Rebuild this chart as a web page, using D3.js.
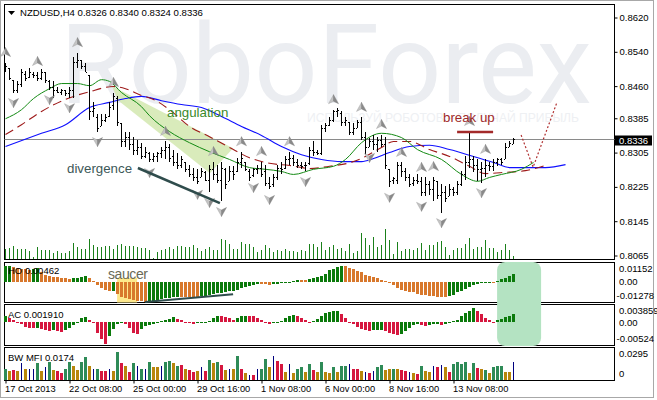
<!DOCTYPE html>
<html><head><meta charset="utf-8">
<script src="https://cdn.jsdelivr.net/npm/d3@7"></script>
<style>
html,body{margin:0;padding:0;background:#fff;}
svg{display:block;}
</style>
</head><body>
<svg id="chart" width="657" height="400"></svg>
<script>
// ---------------- DATA ----------------
const symbolTitle = "NZDUSD,H4";
const lastQuote = [0.8326, 0.8340, 0.8324, 0.8336];
const currentPrice = 0.8336;

const openP = [.8499,.8503,.8475,.8452,.8464,.8489,.8482,.8489,.8487,.8480,
 .8492,.8473,.8459,.8452,.8447,.8450,.8443,.8452,.8517,.8520,
 .8506,.8487,.8401,.8389,.8366,.8382,.8391,.8415,.8433,.8375,
 .8331,.8342,.8324,.8312,.8319,.8298,.8305,.8289,.8298,.8303,
 .8312,.8317,.8296,.8284,.8277,.8282,.8266,.8256,.8247,.8249,
 .8259,.8242,.8266,.8254,.8242,.8266,.8238,.8261,.8261,.8284,
 .8282,.8263,.8252,.8266,.8270,.8261,.8235,.8231,.8247,.8270,
 .8270,.8289,.8293,.8282,.8277,.8275,.8280,.8312,.8307,.8305,
 .8363,.8370,.8382,.8401,.8398,.8377,.8377,.8354,.8363,.8377,
 .8342,.8317,.8331,.8324,.8335,.8324,.8266,.8242,.8242,.8277,
 .8261,.8247,.8233,.8242,.8238,.8214,.8231,.8219,.8238,.8207,
 .8214,.8203,.8219,.8214,.8231,.8254,.8284,.8289,.8277,.8266,
 .8270,.8277,.8273,.8284,.8289,.8289,.8319,.8326];
const highP = [.8515,.8503,.8475,.8471,.8499,.8496,.8503,.8492,.8494,.8501,
 .8492,.8475,.8471,.8459,.8454,.8452,.8457,.8527,.8538,.8522,
 .8515,.8487,.8422,.8394,.8394,.8394,.8422,.8445,.8436,.8375,
 .8354,.8352,.8342,.8335,.8328,.8319,.8307,.8305,.8307,.8319,
 .8331,.8324,.8312,.8305,.8296,.8282,.8277,.8270,.8266,.8270,
 .8261,.8277,.8284,.8277,.8284,.8270,.8273,.8273,.8293,.8307,
 .8284,.8266,.8270,.8277,.8284,.8277,.8247,.8254,.8277,.8282,
 .8296,.8307,.8300,.8289,.8284,.8282,.8319,.8331,.8312,.8370,
 .8375,.8389,.8405,.8410,.8401,.8387,.8377,.8375,.8382,.8387,
 .8352,.8340,.8347,.8342,.8347,.8342,.8266,.8249,.8284,.8282,
 .8270,.8254,.8247,.8254,.8247,.8249,.8238,.8249,.8238,.8231,
 .8226,.8231,.8224,.8238,.8261,.8296,.8354,.8296,.8289,.8282,
 .8289,.8282,.8289,.8293,.8293,.8328,.8331,.8340];
const lowP = [.8494,.8475,.8445,.8445,.8459,.8471,.8480,.8480,.8471,.8475,
 .8468,.8452,.8433,.8443,.8440,.8436,.8433,.8433,.8503,.8499,
 .8492,.8382,.8387,.8354,.8366,.8377,.8389,.8405,.8366,.8319,
 .8319,.8312,.8300,.8300,.8289,.8293,.8282,.8282,.8284,.8293,
 .8289,.8284,.8273,.8266,.8270,.8259,.8247,.8238,.8231,.8247,
 .8238,.8212,.8242,.8235,.8191,.8219,.8238,.8242,.8259,.8270,
 .8261,.8238,.8247,.8254,.8249,.8226,.8219,.8224,.8242,.8254,
 .8266,.8277,.8273,.8270,.8266,.8261,.8277,.8296,.8300,.8300,
 .8352,.8366,.8377,.8389,.8366,.8366,.8347,.8347,.8363,.8335,
 .8300,.8317,.8312,.8307,.8317,.8266,.8224,.8231,.8231,.8249,
 .8238,.8224,.8226,.8231,.8203,.8203,.8207,.8191,.8196,.8165,
 .8189,.8203,.8203,.8207,.8226,.8242,.8270,.8259,.8238,.8235,
 .8249,.8261,.8261,.8273,.8277,.8289,.8317,.8324];
const closeP = [.8508,.8480,.8452,.8466,.8492,.8480,.8492,.8487,.8480,.8494,
 .8475,.8457,.8452,.8447,.8452,.8443,.8452,.8517,.8522,.8506,
 .8494,.8401,.8410,.8363,.8382,.8389,.8412,.8436,.8377,.8331,
 .8342,.8324,.8312,.8319,.8296,.8307,.8289,.8298,.8303,.8312,
 .8317,.8293,.8284,.8277,.8289,.8266,.8254,.8247,.8238,.8261,
 .8242,.8266,.8254,.8242,.8270,.8231,.8261,.8254,.8284,.8293,
 .8266,.8247,.8266,.8270,.8256,.8235,.8228,.8247,.8270,.8266,
 .8289,.8293,.8282,.8277,.8273,.8277,.8312,.8307,.8305,.8363,
 .8370,.8382,.8401,.8405,.8377,.8382,.8354,.8363,.8377,.8342,
 .8317,.8331,.8324,.8335,.8324,.8277,.8238,.8245,.8277,.8261,
 .8247,.8231,.8242,.8238,.8214,.8231,.8219,.8242,.8207,.8214,
 .8200,.8219,.8214,.8231,.8254,.8284,.8289,.8277,.8266,.8270,
 .8277,.8273,.8284,.8289,.8284,.8319,.8328,.8336];

const volumes = [33,34,41,33,33,33,27,9,39,29,30,30,19,27,19,20,25,51,39,33,33,63,45,39,37,40,42,33,45,48,40,40,
 40,38,36,36,30,4,23,29,33,38,33,42,42,38,38,45,35,27,32,39,29,30,63,60,48,31,33,54,48,46,39,24,
 30,45,36,24,30,27,33,27,27,24,30,27,48,48,39,54,30,39,45,33,36,27,48,21,27,81,66,45,69,39,45,93,
 60,18,54,27,33,33,30,36,51,30,45,45,54,57,39,15,30,36,36,48,66,33,39,39,60,36,36,24,30,48,30,12];

// Alligator lines: [bar index, price]
const jawPts = [[0,.8319],[9,.8350],[15,.8370],[21,.8410],[26,.8422],[30,.8431],[34,.8436],[39,.8426],[44,.8417],
 [49,.8410],[54,.8389],[59,.8366],[64,.8345],[69,.8319],[74,.8300],[79,.8289],[84,.8284],[89,.8284],[92,.8291],
 [96,.8305],[101,.8319],[106,.8322],[111,.8312],[117,.8296],[122,.8282],[126,.8270],[131,.8270],[135,.8270],[140,.8277]];
const teethPts = [[0,.8347],[4,.8370],[9,.8401],[15,.8429],[21,.8447],[27,.8459],[30,.8454],[34,.8438],[37,.8429],
 [41,.8405],[46,.8366],[51,.8342],[56,.8317],[61,.8293],[66,.8280],[71,.8275],[76,.8268],[81,.8273],[87,.8284],
 [90,.8296],[94,.8317],[97,.8331],[101,.8331],[106,.8312],[111,.8296],[116,.8273],[120,.8256],[125,.8259],
 [130,.8263],[135,.8275]];
const lipsPts = [[0,.8384],[4,.8405],[7,.8431],[11,.8454],[14,.8466],[18,.8466],[21,.8461],[24,.8475],[26,.8471],
 [29,.8445],[34,.8412],[36,.8391],[41,.8354],[46,.8328],[51,.8307],[56,.8289],[61,.8270],[65,.8266],[69,.8261],
 [72,.8254],[77,.8266],[82,.8273],[85,.8289],[89,.8328],[94,.8350],[99,.8340],[103,.8312],[109,.8289],[114,.8254],
 [118,.8238],[121,.8247],[124,.8254],[129,.8266],[132,.8282]];

const fractalUp = [0,8,18,27,40,52,59,64,71,82,89,94,99,104,107,116,120];
const fractalDown = [2,11,16,23,36,48,51,54,62,66,75,91,96,104,109,119];

const hoVals = [.0095,.0097,.0091,.0083,.0079,.0077,.0074,.0080,.0083,.0062,
 .0044,.0038,.0032,.0028,.0023,.0020,.0015,.0020,.0025,.0031,
 .0034,.0022,.0003,-.0022,-.0038,-.0048,-.0058,-.0054,-.0077,-.0092,
 -.0101,-.0108,-.0112,-.0116,-.0120,-.0123,-.0120,-.0117,-.0113,-.0108,
 -.0103,-.0098,-.0094,-.0091,-.0092,-.0093,-.0094,-.0095,-.0096,-.0090,
 -.0085,-.0080,-.0076,-.0072,-.0068,-.0064,-.0060,-.0055,-.0049,-.0040,
 -.0032,-.0025,-.0019,-.0014,-.0015,-.0016,-.0018,-.0015,-.0012,-.0009,
 -.0006,-.0003,.0007,.0011,.0010,.0009,.0015,.0020,.0026,.0034,
 .0046,.0071,.0080,.0092,.0095,.0094,.0086,.0078,.0065,.0057,
 .0044,.0036,.0026,.0020,.0011,.0003,-.0005,-.0022,-.0038,-.0052,
 -.0058,-.0063,-.0066,-.0073,-.0079,-.0083,-.0087,-.0089,-.0091,-.0092,
 -.0093,-.0087,-.0079,-.0066,-.0054,-.0042,-.0032,-.0022,-.0014,-.0005,
 -.0002,.0001,.0000,.0005,.0014,.0023,.0034,.00462];

const acVals = [.00133,.00095,.00060,-.00016,-.00051,-.00111,-.00127,-.00140,-.00127,-.00162,
 -.00184,-.00200,-.00184,-.00200,-.00215,-.00184,-.00140,-.00067,-.00016,.00095,
 .00111,.00038,-.00016,-.00238,-.00384,-.00482,-.00311,-.00162,-.00051,-.00016,
 -.00051,-.00140,-.00238,-.00260,-.00162,-.00089,-.00067,-.00051,-.00016,.00022,
 .00060,.00082,.00111,.00082,.00044,.00007,-.00029,-.00038,-.00022,-.00016,
 0,.00022,.00095,.00149,.00133,.00111,.00095,.00060,.00095,.00133,
 .00149,.00149,.00133,.00095,.00038,-.00016,-.00051,-.00029,-.00016,.00022,
 .00095,.00149,.00171,.00133,.00095,.00060,0,.00022,.00073,.00133,
 .00206,.00229,.00244,.00260,.00184,.00095,.00007,-.00038,-.00111,-.00162,
 -.00184,-.00193,-.00184,-.00178,-.00171,-.00200,-.00238,-.00273,-.00289,-.00273,
 -.00200,-.00140,-.00073,-.00051,-.00073,-.00089,-.00067,-.00051,-.00044,-.00067,
 -.00038,-.00016,.00022,.00060,.00133,.00206,.00260,.00317,.00260,.00184,
 .00095,.00038,-.00007,.00038,.00082,.00111,.00149,.00191];

const mfiVals = [.0111,.0088,.0095,.0088,.0164,.0105,.0105,.0105,.0161,.0088,
 .0121,.0177,.0095,.0088,.0072,.0105,.0170,.0138,.0095,.0170,
 .0226,.0138,.0105,.0111,.0088,.0088,.0105,.0088,.0275,.0161,
 .0138,.0079,.0161,.0138,.0111,.0111,.0170,.0128,.0121,.0138,
 .0170,.0184,.0161,.0138,.0144,.0105,.0095,.0079,.0088,.0121,
 .0088,.0197,.0161,.0177,.0147,.0095,.0111,.0105,.0236,.0105,
 .0072,.0052,.0046,.0111,.0105,.0203,.0121,.0236,.0184,.0154,
 .0079,.0154,.0072,.0105,.0121,.0079,.0154,.0095,.0079,.0177,
 .0079,.0072,.0121,.0079,.0138,.0131,.0154,.0111,.0105,.0088,
 .0079,.0072,.0088,.0128,.0144,.0095,.0105,.0105,.0105,.0098,
 .0088,.0079,.0066,.0056,.0138,.0088,.0079,.0138,.0121,.0144,
 .0121,.0079,.0154,.0170,.0154,.0177,.0072,.0164,.0115,.0105,
 .0095,.0066,.0121,.0138,.0131,.0079,.0079,.0174];
// BW MFI bar type: G = green, R = fake (red), Y = fade (gold), B = squat (blue)
const mfiTypes = ("GYRYBYBBGYBGYRRGGYYGGYBGRRBYGRYRGBGBGYYBGGYGRYRRYBRGYGRYBYGRYBRBGGYBRRYBYGGYGRYGYYGYGGBRRYBRBGGYYGYRRBYRGYYBRBYRGGGGYGRYGYGGGYYB").split("");

const priceTicks = [0.8620, 0.8540, 0.8460, 0.8385, 0.8305, 0.8225, 0.8145, 0.8065];
const hoTicks = [0.01152, 0, -0.01278];
const acTicks = [0.003859, 0, -0.00524];
const mfiTicks = [0.0295, 0];
const dateTickBars = [0, 16, 32, 48, 64, 80, 96, 112];
const dateLabels = ["17 Oct 2013", "22 Oct 08:00", "25 Oct 00:00", "29 Oct 16:00",
                    "1 Nov 08:00", "6 Nov 00:00", "8 Nov 16:00", "13 Nov 08:00"];

// Annotations in data units
const angulationPoly = [[26.6,.8460],[56.9,.8315],[51.1,.8257],[28.1,.8427]];
const divergenceLine = [[33.1,.8269],[53.6,.8187]];
const breakUpLine = [[112.9,.8353],[121.9,.8353]];
const forecastPts = [[128.9,.8346],[131.9,.8271],[137.9,.8423]];
const saucerBox = [27.9, 32.9, .0023, -.01278];
const hoDivergence = [[34.9,-.0125],[56.9,-.0077]];
const highlightBars = [122.9, 133.9];

// ---------------- DRAW ----------------
const FONT = "'Liberation Sans', Arial, sans-serif";
const svg = d3.select("#chart");
const L = 4.5, R = 614.5;
const P = {main:[4.5,259.5], ho:[262.5,302.5], ac:[304.5,345.5], mfi:[347.5,380.5]};

const x = d3.scaleLinear().domain([0, 127]).range([5.5, 513.5]);
const yP = d3.scaleLinear().domain([0.8065, 0.8620]).range([255.5, 17.5]);
const yV = d3.scaleLinear().domain([0, 96]).range([259.5, 227.5]);
const yHO = d3.scaleLinear().domain([-0.01278, 0.01152]).range([302.5, 263]);
const yAC = d3.scaleLinear().domain([-0.00524, 0.003859]).range([345.5, 305]);
const yMFI = d3.scaleLinear().domain([0, 0.0295]).range([380, 349.5]);

// outer frame
svg.append("rect").attr("x",0.5).attr("y",0.5).attr("width",653).attr("height",397)
  .attr("fill","#fff").attr("stroke","#a8a8a8");

// watermark
const wm = svg.append("g");
wm.append("text").attr("x",60).attr("y",103).attr("font-family","Roboto, 'Open Sans', sans-serif")
  .attr("font-size",112).attr("textLength",532).attr("lengthAdjust","spacingAndGlyphs")
  .attr("fill","#ebedf1").text("RoboForex");
wm.append("text").attr("x",307).attr("y",122).attr("font-family",FONT).attr("font-size",12.5)
  .attr("textLength",272).attr("lengthAdjust","spacingAndGlyphs")
  .attr("fill","#eef0f3").text("ИСПОЛЬЗУЙ РОБОТОВ – ПОЛУЧАЙ ПРИБЫЛЬ");

// panel frames
Object.values(P).forEach(([t,b]) => {
  svg.append("rect").attr("x",L).attr("y",t).attr("width",R-L).attr("height",b-t)
    .attr("fill","none").attr("stroke","#000").attr("stroke-width",1);
});

// angulation polygon
svg.append("path").attr("d", d3.line().x(d=>x(d[0])).y(d=>yP(d[1]))(angulationPoly)+"Z")
  .attr("fill","#d5e9b4").attr("opacity",0.9);

// current price line
const cpY = Math.round(yP(currentPrice)) + 0.5;
svg.append("line").attr("x1",L).attr("x2",R).attr("y1",cpY).attr("y2",cpY)
  .attr("stroke","#8a8a8a").attr("stroke-width",1);

// volumes
const gV = svg.append("g").attr("shape-rendering","crispEdges");
gV.selectAll("rect").data(volumes).join("rect")
  .attr("x",(d,i)=>x(i)-0.5).attr("width",1)
  .attr("y",d=>yV(d)).attr("height",d=>259-yV(d)).attr("fill","#1a801a");

// alligator
const lineG = d3.line().x(d=>x(d[0])).y(d=>yP(d[1])).curve(d3.curveMonotoneX);
svg.append("path").attr("d",lineG(jawPts)).attr("fill","none").attr("stroke","#1010ff").attr("stroke-width",1.1);
svg.append("path").attr("d",lineG(teethPts)).attr("fill","none").attr("stroke","#9e1a1a").attr("stroke-width",1.1).attr("stroke-dasharray","9,5");
svg.append("path").attr("d",lineG(lipsPts)).attr("fill","none").attr("stroke","#138a13").attr("stroke-width",1);

// OHLC bars
const gB = svg.append("g").attr("shape-rendering","crispEdges").attr("fill","#000");
closeP.forEach((c,i) => {
  const cx = x(i)-0.5;
  const yh = Math.round(yP(highP[i])), yl = Math.round(yP(lowP[i]));
  gB.append("rect").attr("x",cx).attr("y",yh).attr("width",1).attr("height",Math.max(1,yl-yh));
  gB.append("rect").attr("x",cx-1).attr("y",Math.round(yP(openP[i]))).attr("width",1).attr("height",1);
  gB.append("rect").attr("x",cx+1).attr("y",Math.round(yP(c))).attr("width",1).attr("height",1);
});

// fractals
function arrow(g, up) {
  const s = up ? 1 : -1;
  g.append("path").attr("d",`M0,${-5*s} L-5,${4*s} L0,${1.5*s} Z`).attr("fill","#c4c4c4").attr("stroke","#9a9a9a").attr("stroke-width",0.4);
  g.append("path").attr("d",`M0,${-5*s} L5,${4*s} L0,${1.5*s} Z`).attr("fill","#8a8a8a").attr("stroke","#7a7a7a").attr("stroke-width",0.4);
}
fractalUp.forEach(i => arrow(svg.append("g").attr("transform",`translate(${x(i)},${yP(highP[i])-10})`), true));
fractalDown.forEach(i => arrow(svg.append("g").attr("transform",`translate(${x(i)},${yP(lowP[i])+10})`), false));

// annotations main
svg.append("line").attr("x1",x(divergenceLine[0][0])).attr("y1",yP(divergenceLine[0][1]))
  .attr("x2",x(divergenceLine[1][0])).attr("y2",yP(divergenceLine[1][1]))
  .attr("stroke","#2f4c4c").attr("stroke-width",2.5);
svg.append("line").attr("x1",x(breakUpLine[0][0])).attr("y1",yP(breakUpLine[0][1]))
  .attr("x2",x(breakUpLine[1][0])).attr("y2",yP(breakUpLine[1][1]))
  .attr("stroke","#a32a2a").attr("stroke-width",2.5);
svg.append("path").attr("d",d3.line().x(d=>x(d[0])).y(d=>yP(d[1]))(forecastPts))
  .attr("fill","none").attr("stroke","#b03030").attr("stroke-width",1.2).attr("stroke-dasharray","2,2");
svg.append("text").attr("x",167).attr("y",117).attr("font-family",FONT).attr("font-size",13.3)
  .attr("fill","#3a8a2a").text("angulation");
svg.append("text").attr("x",67).attr("y",173).attr("font-family",FONT).attr("font-size",13.3)
  .attr("fill","#3d5858").text("divergence");
svg.append("text").attr("x",443).attr("y",122).attr("font-family",FONT).attr("font-size",13.3)
  .attr("fill","#a02a2a").text("break up");

// header
svg.append("path").attr("d","M8,11 L15,11 L11.5,15 Z").attr("fill","#000");
svg.append("text").attr("x",20).attr("y",16).attr("font-family",FONT).attr("font-size",9.6)
  .attr("fill","#000").text(symbolTitle + " " + lastQuote.map(d=>d.toFixed(4)).join(" "));

// price axis
const axP = svg.append("g").attr("transform",`translate(${R},0)`)
  .call(d3.axisRight(yP).tickValues(priceTicks).tickSize(3).tickPadding(2).tickFormat(d3.format(".4f")));
axP.select(".domain").remove();
axP.selectAll("text").attr("font-family",FONT).attr("font-size",9.5).attr("fill","#000");
axP.selectAll("line").attr("stroke","#000");
svg.append("rect").attr("x",615).attr("y",Math.round(yP(currentPrice))-3.5).attr("width",37).attr("height",10)
  .attr("fill","#000");
svg.append("text").attr("x",619).attr("y",yP(currentPrice)+1.5).attr("dy","0.35em").attr("font-family",FONT)
  .attr("font-size",9.5).attr("fill","#fff").text(currentPrice.toFixed(4));

// green highlight rect across HO and AC
svg.append("rect").attr("x",x(highlightBars[0])).attr("y",262).attr("width",x(highlightBars[1])-x(highlightBars[0]))
  .attr("height",84).attr("rx",8).attr("fill","#b4e3c2");

// saucer box
svg.append("rect").attr("x",x(saucerBox[0])).attr("y",yHO(saucerBox[2]))
  .attr("width",x(saucerBox[1])-x(saucerBox[0])).attr("height",yHO(saucerBox[3])-yHO(saucerBox[2]))
  .attr("fill","#fde88c");

// HO bars
const gH = svg.append("g").attr("shape-rendering","crispEdges");
gH.selectAll("rect").data(hoVals).join("rect")
  .attr("x",(d,i)=>x(i)-1.5).attr("width",3)
  .attr("y",d=>Math.min(yHO(d),yHO(0))).attr("height",d=>Math.max(1,Math.abs(yHO(d)-yHO(0))))
  .attr("fill",(d,i)=> (i===0 || d>hoVals[i-1]) ? "#0b7a0b" : "#d8782c");
svg.append("line").attr("x1",x(hoDivergence[0][0])).attr("y1",yHO(hoDivergence[0][1]))
  .attr("x2",x(hoDivergence[1][0])).attr("y2",yHO(hoDivergence[1][1]))
  .attr("stroke","#2f4c4c").attr("stroke-width",2);
svg.append("text").attr("x",108).attr("y",279).attr("font-family",FONT).attr("font-size",14)
  .attr("textLength",40).attr("fill","#6a6a55").text("saucer");

// AC bars
const gA = svg.append("g").attr("shape-rendering","crispEdges");
gA.selectAll("rect").data(acVals).join("rect")
  .attr("x",(d,i)=>x(i)-1.5).attr("width",3)
  .attr("y",d=>Math.min(yAC(d),yAC(0))).attr("height",d=>Math.max(1,Math.abs(yAC(d)-yAC(0))))
  .attr("fill",(d,i)=> (i===0 || d>acVals[i-1]) ? "#0b7a0b" : "#d6173f");

// MFI bars
const mfiColor = {G:"#2e8b57", R:"#d6173f", Y:"#b8860b", B:"#00007f"};
const gM = svg.append("g").attr("shape-rendering","crispEdges");
gM.selectAll("rect").data(mfiVals).join("rect")
  .attr("x",(d,i)=> mfiTypes[i]==="B" ? x(i)-0.5 : x(i)-1.5)
  .attr("width",(d,i)=> mfiTypes[i]==="B" ? 1 : 3)
  .attr("y",d=>yMFI(d)).attr("height",d=>yMFI(0)-yMFI(d))
  .attr("fill",(d,i)=>mfiColor[mfiTypes[i]]);

// panel labels
function panelLabel(txt, y) {
  svg.append("text").attr("x",8).attr("y",y).attr("font-family",FONT).attr("font-size",9.5).attr("fill","#000").text(txt);
}
panelLabel("HO " + hoVals[hoVals.length-1].toFixed(5), 274);
panelLabel("AC " + acVals[acVals.length-1].toFixed(6), 318);
panelLabel("BW MFI " + mfiVals[mfiVals.length-1].toFixed(4), 361);

function sideLabels(scale, ticks, top, bottom, fmt) {
  ticks.forEach((v,k) => {
    let y = scale(v);
    y = Math.max(top+6.5, Math.min(bottom-6.5, y));
    svg.append("text").attr("x", v<0 ? 616.5 : 619).attr("y",y).attr("dy","0.35em")
      .attr("font-family",FONT).attr("font-size",9.5).attr("fill","#000").text(fmt[k]);
  });
}
sideLabels(yHO, hoTicks, P.ho[0], P.ho[1], ["0.01152","0.00","-0.01278"]);
sideLabels(yAC, acTicks, P.ac[0], P.ac[1], ["0.003859","0.00","-0.00524"]);
sideLabels(yMFI, mfiTicks, P.mfi[0], P.mfi[1], ["0.0295","0"]);

// date axis
const axX = svg.append("g").attr("transform",`translate(0,${P.mfi[1]})`)
  .call(d3.axisBottom(x).tickValues(dateTickBars).tickSize(3).tickPadding(2).tickFormat((d,k)=>dateLabels[k]));
axX.select(".domain").remove();
axX.selectAll("line").attr("stroke","#000");
axX.selectAll("text").attr("text-anchor","start").attr("x",-1).attr("font-family",FONT)
  .attr("font-size",9.3).attr("fill","#000");
</script>
</body></html>
